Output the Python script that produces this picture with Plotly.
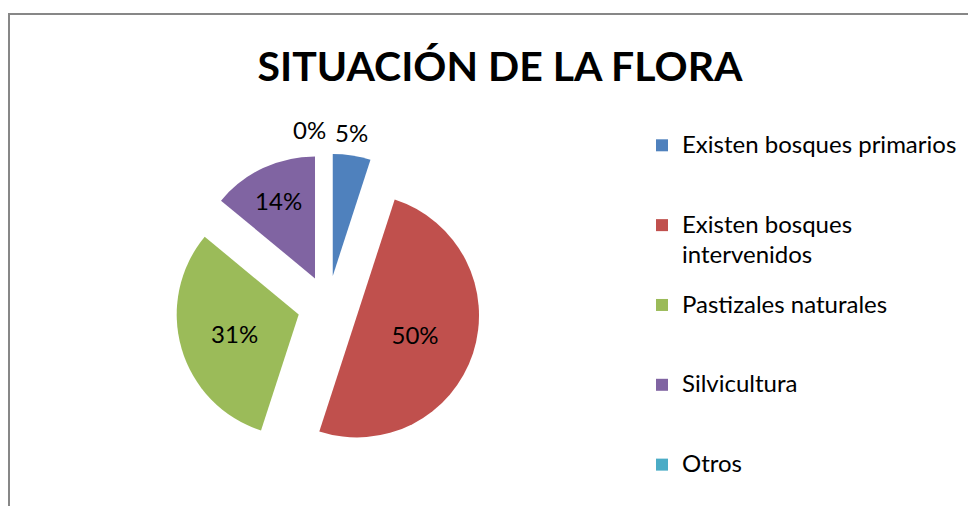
import plotly.graph_objects as go

# ---- data ----
categories = ["Existen bosques primarios", "Existen bosques intervenidos",
              "Pastizales naturales", "Silvicultura", "Otros"]
values = [5, 50, 31, 14, 0]
colors = ["#4F81BD", "#C0504D", "#9BBB59", "#8064A2", "#4BACC6"]
inside = [False, True, True, True, False]
title_text = "SITUACIÓN DE LA FLORA"

W, H = 976, 506
FONT = "Lato"
TXT = 24          # visible legend text size
LEG_F = 19.7      # legend base size -> controls entry spacing (3 lines each)


def span(s):
    return f"<span style='font-size:{TXT}px'>{s}</span>"


wrap = {"Existen bosques intervenidos": ["Existen bosques", "intervenidos"]}
legend_labels = []
for c in categories:
    lines = wrap.get(c, [c])
    shown = [span(lines[0])] + [f"<sub>{span(l)}</sub>" for l in lines[1:]]
    shown += [" "] * (3 - len(shown))
    legend_labels.append("<br>".join(shown))

total = sum(values)
pct_labels = [f"{v / total:.0%}" for v in values]
text_positions = ["inside" if ins else "none" for ins in inside]

# pie placement (pixels)
cx, cy, box = 320, 298, 305

fig = go.Figure(go.Pie(
    labels=legend_labels,
    values=values,
    sort=False,
    direction="clockwise",
    rotation=0,
    pull=[0.25] * len(values),
    marker=dict(colors=colors, line=dict(width=0)),
    texttemplate="%{percent:.0%}",
    textposition=text_positions,
    insidetextorientation="horizontal",
    textfont=dict(family=FONT, size=24, color="black"),
    domain=dict(x=[(cx - box / 2) / W, (cx + box / 2) / W],
                y=[1 - (cy + box / 2) / H, 1 - (cy - box / 2) / H]),
    showlegend=True,
    hoverinfo="percent",
))

# outside labels of the thin / empty slices at the top
outside_pos = {0: (343, 124), 4: (301, 122)}
annotations = [dict(text=pct_labels[i], xref="paper", yref="paper",
                    x=px / W, y=1 - py / H, showarrow=False,
                    xanchor="center", yanchor="middle",
                    font=dict(family=FONT, size=24, color="black"))
               for i, (px, py) in outside_pos.items()]

fig.update_layout(
    width=W, height=H,
    margin=dict(l=0, r=0, t=0, b=0, autoexpand=False),
    paper_bgcolor="white",
    plot_bgcolor="white",
    font=dict(family=FONT, color="black"),
    title=dict(text="<b>" + title_text + "</b>", x=492 / W, xanchor="center",
               y=1 - 59 / H, yanchor="middle",
               font=dict(family=FONT, size=41, color="black")),
    legend=dict(x=634 / W, y=1 - 118 / H, xanchor="left", yanchor="top",
                valign="top",
                font=dict(family=FONT, size=LEG_F, color="black"),
                bgcolor="rgba(0,0,0,0)"),
    annotations=annotations,
    shapes=[dict(type="rect", xref="paper", yref="paper",
                 x0=1 / W, x1=1.05, y0=-0.05, y1=1 - 6 / H,
                 line=dict(color="#878787", width=2), fillcolor="rgba(0,0,0,0)",
                 layer="below")],
)

fig.write_html("out.html")
